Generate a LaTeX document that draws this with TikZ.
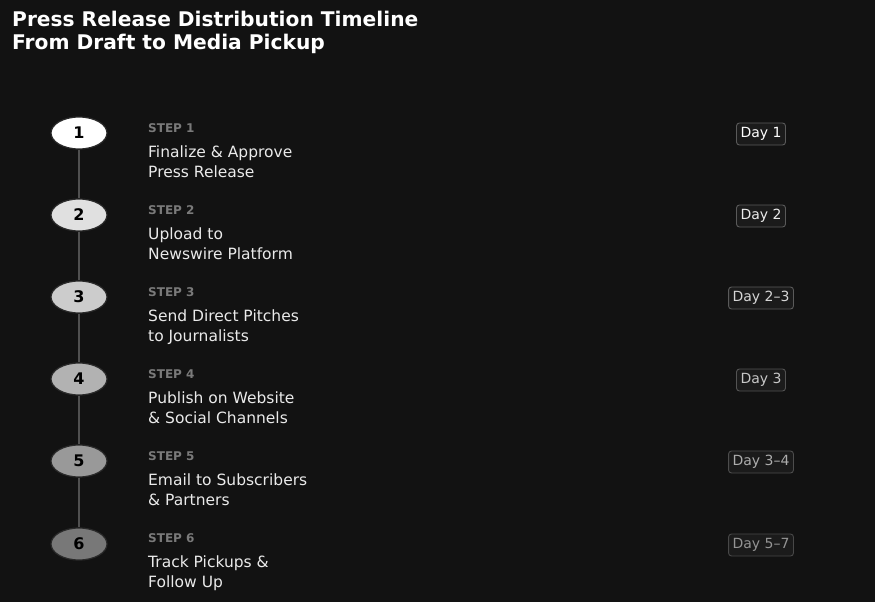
\documentclass[tikz,border=0pt]{standalone}
\usepackage{fontspec}
\setmainfont{DejaVu Sans}
\usetikzlibrary{positioning,shapes.geometric}
\definecolor{bg}{HTML}{121212}
\definecolor{linec}{HTML}{505050}
\definecolor{ring}{HTML}{2A2A2A}
\definecolor{stepc}{HTML}{7A7A7A}
\definecolor{titlec}{HTML}{EAEAEA}
\definecolor{badgebg}{HTML}{1B1B1B}
\definecolor{badgebd}{HTML}{5A5A5A}
\tikzset{
  x=1pt,y=-1pt,
  dot/.style={ellipse,draw=ring,line width=1.2pt,minimum width=56pt,minimum height=32pt,inner sep=0pt,
    font=\fontsize{16}{16}\selectfont\bfseries,text=black},
  stepl/.style={anchor=base west,inner sep=0pt,text=stepc,font=\fontsize{12}{12}\selectfont\bfseries},
  stept/.style={anchor=base west,inner sep=0pt,align=left,text=titlec,font=\fontsize{15.5}{20}\selectfont},
  badge/.style={draw=badgebd,fill=badgebg,rounded corners=3pt,line width=0.9pt,minimum height=22pt,inner xsep=4pt,inner ysep=0pt,
    font=\fontsize{14}{14}\selectfont},
  conn/.style={draw=linec,line width=2pt},
}
\begin{document}
\begin{tikzpicture}
\fill[bg] (0,0) rectangle (875,602);
\useasboundingbox (0,0) rectangle (875,602);
\node[anchor=base west,inner sep=0pt,align=left,text=white,font=\fontsize{20.2}{22}\selectfont\bfseries] (title) at (12,49) {Press Release Distribution Timeline\\From Draft to Media Pickup};
% circles
\node[dot,fill=white] (c1) at (79,133) {1};
\node[dot,fill=white!88!black] (c2) at (79,215) {2};
\node[dot,fill=white!80!black] (c3) at (79,297) {3};
\node[dot,fill=white!70!black] (c4) at (79,379) {4};
\node[dot,fill=white!60!black] (c5) at (79,461) {5};
\node[dot,fill=white!47!black] (c6) at (79,544) {6};
\draw[conn] (c1) -- (c2);
\draw[conn] (c2) -- (c3);
\draw[conn] (c3) -- (c4);
\draw[conn] (c4) -- (c5);
\draw[conn] (c5) -- (c6);
% labels
\node[stepl] (s1) at (148,132) {STEP 1};
\node[stept] (t1) at (148,177) {Finalize \& Approve\\Press Release};
\node[stepl] (s2) at (148,214) {STEP 2};
\node[stept] (t2) at (148,259) {Upload to\\Newswire Platform};
\node[stepl] (s3) at (148,296) {STEP 3};
\node[stept] (t3) at (148,341) {Send Direct Pitches\\to Journalists};
\node[stepl] (s4) at (148,378) {STEP 4};
\node[stept] (t4) at (148,423) {Publish on Website\\\& Social Channels};
\node[stepl] (s5) at (148,460) {STEP 5};
\node[stept] (t5) at (148,505) {Email to Subscribers\\\& Partners};
\node[stepl] (s6) at (148,542) {STEP 6};
\node[stept] (t6) at (148,587) {Track Pickups \&\\Follow Up};
% badges
\node[badge,text=white] (d1) at (761,134) {Day 1};
\node[badge,text=white!92!black] (d2) at (761,216) {Day 2};
\node[badge,text=white!84!black] (d3) at (761,298) {Day 2–3};
\node[badge,text=white!78!black,draw=badgebd!92!black] (d4) at (761,380) {Day 3};
\node[badge,text=white!68!black,draw=badgebd!86!black] (d5) at (761,462) {Day 3–4};
\node[badge,text=white!58!black,draw=badgebd!80!black] (d6) at (761,545) {Day 5–7};
\end{tikzpicture}
\end{document}
